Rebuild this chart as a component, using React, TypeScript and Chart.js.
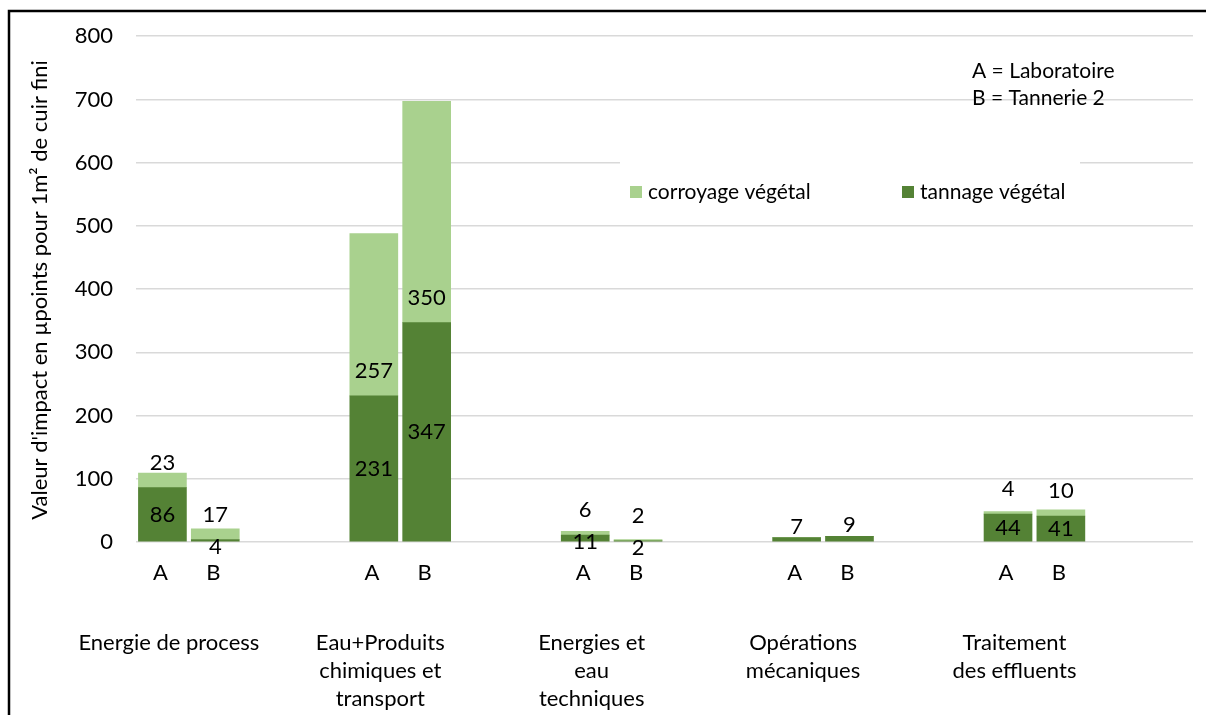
import { useEffect, useRef } from "react";
import { Chart, registerables } from "chart.js";

Chart.register(...registerables);

// ---- data ----
const groupLabels: string[][] = [
  ["Energie de process"],
  ["Eau+Produits", "chimiques et", "transport"],
  ["Energies et", "eau", "techniques"],
  ["Opérations", "mécaniques"],
  ["Traitement", "des effluents"],
];
const subLabels = ["A", "B"];
const tannage = [86, 4, 231, 347, 11, 2, 7, 9, 44, 41];
const corroyage = [23, 17, 257, 350, 6, 2, 0, 0, 4, 10];
const seriesNames = ["corroyage végétal", "tannage végétal"];
const notes = ["A = Laboratoire", "B = Tannerie 2"];
const yTitle = "Valeur d'impact en µpoints pour 1m² de cuir fini";
const yMin = 0;
const yMax = 800;
const yStep = 100;

const DARK = "#548235";
const LIGHT = "#A9D18E";
const FONT = "Lato";
const FS = 22;

// category slots: A, B, then two empty slots per group
const SLOTS = 4;
const categories: string[] = [];
const tanData: (number | null)[] = [];
const corData: (number | null)[] = [];
groupLabels.forEach((g, gi) => {
  for (let s = 0; s < SLOTS; s++) {
    categories.push(s < subLabels.length ? `${g[0]} ${subLabels[s]}` : `${g[0]} ${s}`);
    if (s < subLabels.length) {
      tanData.push(tannage[gi * subLabels.length + s]);
      corData.push(corroyage[gi * subLabels.length + s]);
    } else {
      tanData.push(null);
      corData.push(null);
    }
  }
});

const overlay = {
  id: "overlay",
  afterDraw(chart: any) {
    const ctx = chart.ctx as CanvasRenderingContext2D;
    const m0 = chart.getDatasetMeta(0).data;
    const m1 = chart.getDatasetMeta(1).data;
    ctx.save();
    ctx.fillStyle = "#000";
    ctx.font = `${FS}px ${FONT}`;
    ctx.textAlign = "center";
    ctx.textBaseline = "middle";

    groupLabels.forEach((g, gi) => {
      const xs: number[] = [];
      subLabels.forEach((sl, si) => {
        const di = gi * subLabels.length + si;
        const idx = gi * SLOTS + si;
        const e0 = m0[idx];
        const e1 = m1[idx];
        xs.push(e0.x);
        let corY: number | null = null;
        if (corroyage[di] > 0) {
          corY = e1.base - 25;
          ctx.fillText(String(corroyage[di]), e1.x, corY);
        }
        let tY: number;
        if (corY !== null) {
          tY = Math.max((e0.y + e0.base) / 2, corY + 32);
        } else {
          tY = e0.y - 11;
        }
        ctx.fillText(String(tannage[di]), e0.x, tY);
        // sub label
        ctx.fillText(sl, e0.x - 2, 573);
      });
      const cx = (xs[0] + xs[xs.length - 1]) / 2 - 20;
      g.forEach((line, li) => ctx.fillText(line, cx, 643 + li * 28));
    });

    // legend box
    ctx.fillStyle = "#fff";
    ctx.fillRect(620, 150, 460, 62);
    ctx.textAlign = "left";
    ctx.font = `21px ${FONT}`;
    const leg = [
      { x: 630, c: LIGHT, t: seriesNames[0] },
      { x: 902, c: DARK, t: seriesNames[1] },
    ];
    leg.forEach((l) => {
      ctx.fillStyle = l.c;
      ctx.fillRect(l.x, 186, 12, 12);
      ctx.fillStyle = "#000";
      ctx.fillText(l.t, l.x + 18, 192);
    });

    // notes
    notes.forEach((n, i) => ctx.fillText(n, 972, 71 + i * 27));

    // y title
    ctx.font = `${FS}px ${FONT}`;
    ctx.save();
    ctx.translate(40, 290);
    ctx.rotate(-Math.PI / 2);
    ctx.textAlign = "center";
    ctx.fillText(yTitle, 0, 0);
    ctx.restore();

    // frame
    ctx.strokeStyle = "#000";
    ctx.lineWidth = 2.5;
    ctx.beginPath();
    ctx.moveTo(9, 715);
    ctx.lineTo(9, 11);
    ctx.lineTo(1206, 11);
    ctx.stroke();
    ctx.restore();
  },
};

export default function App() {
  const ref = useRef<HTMLCanvasElement | null>(null);
  useEffect(() => {
    if (!ref.current) return;
    const chart = new Chart(ref.current, {
      type: "bar",
      data: {
        labels: categories,
        datasets: [
          { label: seriesNames[1], data: tanData, backgroundColor: DARK, barThickness: 48 },
          { label: seriesNames[0], data: corData, backgroundColor: LIGHT, barThickness: 48 },
        ],
      },
      options: {
        responsive: false,
        maintainAspectRatio: false,
        devicePixelRatio: 1,
        animation: false,
        layout: { padding: { left: 0, right: 13, top: 34, bottom: 173 } },
        plugins: { legend: { display: false }, tooltip: { enabled: false } },
        scales: {
          x: { stacked: true, display: false },
          y: {
            stacked: true,
            min: yMin,
            max: yMax,
            ticks: { stepSize: yStep, font: { family: FONT, size: FS }, color: "#000", padding: 23 },
            grid: { color: "#d9d9d9", lineWidth: 1.5, drawTicks: false },
            border: { display: false },
            afterFit: (s: any) => {
              s.width = 136;
            },
          },
        },
      },
      plugins: [overlay],
    });
    return () => chart.destroy();
  }, []);
  return (
    <div style={{ position: "fixed", left: 0, top: 0, width: 1206, height: 715, background: "#fff" }}>
      <canvas ref={ref} width={1206} height={715} style={{ display: "block", width: 1206, height: 715 }} />
    </div>
  );
}
